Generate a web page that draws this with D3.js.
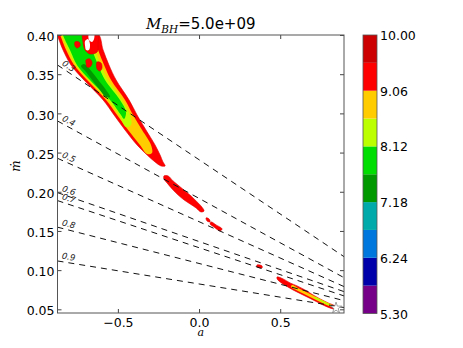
<!DOCTYPE html>
<html>
<head>
<meta charset="utf-8">
<script src="https://cdn.jsdelivr.net/npm/d3@7"></script>
<style>
  body { margin: 0; background: #fff; }
  text { font-family: "DejaVu Sans", sans-serif; fill: #000; }
</style>
</head>
<body>
<div id="chart"></div>
<script>
// contour levels and their colours (low -> high)
var levels = [5.30, 5.77, 6.24, 6.71, 7.18, 7.65, 8.12, 8.59, 9.06, 9.53, 10.00];
var levelColors = ["#770088", "#0000aa", "#0077dd", "#00aaaa", "#009900",
                   "#00dd00", "#bbff00", "#ffcc00", "#ff0000", "#cc0000"];
var cbarTicks = [5.30, 6.24, 7.18, 8.12, 9.06, 10.00];
var xTicks = [-0.5, 0.0, 0.5];
var yTicks = [0.05, 0.10, 0.15, 0.20, 0.25, 0.30, 0.35, 0.40];

// dashed reference lines: mdot at left edge and at right edge
var lineLabels = ["0.3", "0.4", "0.5", "0.6", "0.7", "0.8", "0.9"];
var lineStart = [0.3617, 0.2903, 0.2427, 0.1989, 0.1887, 0.1548, 0.1117];
var lineEnd   = [0.1172, 0.0904, 0.0790, 0.0726, 0.0671, 0.0611, 0.0523];

var starPoint = [0.844, 0.0518];

// filled regions, points are [a, mdot]
var mainRed = [[-0.628,0.4026],[-0.591,0.3809],[-0.555,0.3617],[-0.511,0.3426],[-0.431,0.3171],
  [-0.382,0.2980],[-0.327,0.2788],[-0.271,0.2597],[-0.240,0.2469],[-0.222,0.2380],[-0.209,0.2329],
  [-0.234,0.2329],[-0.271,0.2380],[-0.320,0.2469],[-0.382,0.2597],[-0.456,0.2788],[-0.524,0.2980],
  [-0.591,0.3171],[-0.709,0.3426],[-0.789,0.3617],[-0.838,0.3809],[-0.875,0.4000],[-0.887,0.4038]];
var mainOrange = [[-0.653,0.4026],[-0.622,0.3809],[-0.585,0.3617],[-0.542,0.3426],[-0.456,0.3171],
  [-0.407,0.2980],[-0.351,0.2788],[-0.296,0.2597],[-0.290,0.2495],[-0.320,0.2482],[-0.364,0.2597],
  [-0.437,0.2788],[-0.505,0.2980],[-0.573,0.3171],[-0.690,0.3426],[-0.770,0.3617],[-0.819,0.3809],
  [-0.856,0.4000],[-0.863,0.4026]];
var mainLime = [[-0.672,0.4026],[-0.641,0.3809],[-0.604,0.3617],[-0.561,0.3426],[-0.474,0.3171],
  [-0.425,0.2980],[-0.419,0.2852],[-0.450,0.2827],[-0.493,0.2980],[-0.561,0.3171],[-0.678,0.3426],
  [-0.758,0.3617],[-0.807,0.3809],[-0.844,0.4000],[-0.844,0.4026]];
var mainGreen = [[-0.696,0.4026],[-0.659,0.3809],[-0.622,0.3617],[-0.579,0.3426],[-0.487,0.3171],
  [-0.450,0.3018],[-0.462,0.2929],[-0.481,0.2980],[-0.548,0.3171],[-0.672,0.3426],[-0.752,0.3617],
  [-0.795,0.3809],[-0.838,0.4000],[-0.838,0.4026]];
var mainDark = [[-0.709,0.3630],[-0.659,0.3528],[-0.616,0.3413],[-0.573,0.3298],[-0.548,0.3209],
  [-0.573,0.3209],[-0.616,0.3311],[-0.659,0.3426],[-0.696,0.3528],[-0.727,0.3605]];
var spotA = [[-0.696,0.3681],[-0.672,0.3694],[-0.659,0.3643],[-0.672,0.3592],[-0.690,0.3592],[-0.696,0.3643]];
var spotB = [[-0.628,0.3656],[-0.604,0.3643],[-0.598,0.3579],[-0.610,0.3541],[-0.628,0.3566]];
var spotC = [[-0.764,0.3911],[-0.739,0.3911],[-0.733,0.3860],[-0.752,0.3834],[-0.764,0.3860]];
var topPatch = [[-0.715,0.4026],[-0.622,0.4026],[-0.622,0.3911],[-0.628,0.3783],[-0.672,0.3758],
  [-0.702,0.3809],[-0.715,0.3911]];
var hole1 = [[-0.702,0.3923],[-0.684,0.3949],[-0.672,0.3885],[-0.678,0.3809],[-0.696,0.3809],[-0.702,0.3860]];
var hole2 = [[-0.678,0.4013],[-0.647,0.4013],[-0.647,0.3949],[-0.659,0.3911],[-0.678,0.3936]];

var midRed = [[-0.216,0.2202],[-0.191,0.2202],[-0.160,0.2138],[-0.123,0.2074],[-0.086,0.2010],
  [-0.049,0.1946],[-0.018,0.1883],[0.012,0.1819],[0.031,0.1755],[0.012,0.1742],[-0.018,0.1793],
  [-0.055,0.1844],[-0.092,0.1895],[-0.129,0.1959],[-0.166,0.2036],[-0.197,0.2112],[-0.216,0.2163]];
var bit1 = [[0.043,0.1666],[0.062,0.1653],[0.068,0.1615],[0.049,0.1628]];
var bit2 = [[0.074,0.1615],[0.105,0.1577],[0.142,0.1526],[0.129,0.1500],[0.092,0.1551],[0.068,0.1589]];
var bit3 = [[0.357,0.1066],[0.388,0.1054],[0.388,0.1028],[0.357,0.1041]];

var lowRed = [[0.481,0.0913],[0.518,0.0888],[0.561,0.0837],[0.604,0.0799],[0.653,0.0747],
  [0.702,0.0684],[0.746,0.0633],[0.795,0.0582],[0.838,0.0543],[0.850,0.0505],[0.826,0.0505],
  [0.776,0.0543],[0.727,0.0594],[0.678,0.0645],[0.628,0.0696],[0.579,0.0747],[0.536,0.0799],
  [0.499,0.0850],[0.481,0.0888]];
var lowOrange = [[0.573,0.0811],[0.622,0.0760],[0.672,0.0709],[0.721,0.0658],[0.770,0.0607],
  [0.819,0.0556],[0.826,0.0531],[0.801,0.0543],[0.746,0.0594],[0.696,0.0645],[0.647,0.0696],
  [0.598,0.0747],[0.567,0.0786]];
var lowGreen = [[0.715,0.0658],[0.764,0.0607],[0.813,0.0556],[0.819,0.0543],[0.795,0.0556],
  [0.746,0.0607],[0.709,0.0645]];

// [points, level index] in drawing order; -1 = empty (white)
var regions = [
  [mainRed, 8], [mainOrange, 7], [mainLime, 6], [mainGreen, 5], [mainDark, 4],
  [topPatch, 8], [spotA, 8], [spotB, 8], [spotC, 8], [hole1, -1], [hole2, -1],
  [midRed, 8], [bit1, 8], [bit2, 8], [bit3, 8],
  [lowRed, 8], [lowOrange, 7], [lowGreen, 6]
];

var margin = {top: 35, left: 57.5},
    width = 286.5,
    height = 278;

var svg = d3.select("#chart").append("svg")
    .attr("width", 463)
    .attr("height", 348);

var g = svg.append("g")
    .attr("transform", "translate(" + margin.left + "," + margin.top + ")");

var x = d3.scaleLinear().domain([-0.872, 0.893]).range([0, width]);
var y = d3.scaleLinear().domain([0.0453, 0.40]).range([height, 0]);

g.append("clipPath").attr("id", "plotclip")
  .append("rect").attr("width", width).attr("height", height);

var plot = g.append("g").attr("clip-path", "url(#plotclip)");

// filled contour regions
var shape = d3.line()
    .x(function(d) { return x(d[0]); })
    .y(function(d) { return y(d[1]); })
    .curve(d3.curveCatmullRomClosed.alpha(0.5));

plot.selectAll(".region")
  .data(regions)
  .enter()
  .append("path")
    .attr("class", "region")
    .attr("d", function(d) { return shape(d[0]); })
    .attr("fill", function(d) { return d[1] < 0 ? "#fff" : levelColors[d[1]]; })
    .attr("stroke", function(d) { return d[1] == 8 ? "#dd0000" : "none"; })
    .attr("stroke-width", 0.6);

// dashed lines
var x0 = x.domain()[0], x1 = x.domain()[1];
plot.selectAll(".eff")
  .data(lineLabels)
  .enter()
  .append("line")
    .attr("class", "eff")
    .attr("x1", x(x0))
    .attr("y1", function(d, i) { return y(lineStart[i]); })
    .attr("x2", x(x1))
    .attr("y2", function(d, i) { return y(lineEnd[i]); })
    .attr("stroke", "#111")
    .attr("stroke-width", 1)
    .attr("stroke-dasharray", "6,5");

// line labels, rotated along each line
g.selectAll(".efflabel")
  .data(lineLabels)
  .enter()
  .append("text")
    .attr("class", "efflabel")
    .attr("transform", function(d, i) {
      var dx = x(x1) - x(x0), dy = y(lineEnd[i]) - y(lineStart[i]);
      var ang = Math.atan2(dy, dx) * 180 / Math.PI;
      var px = 4, py = y(lineStart[i]) + dy / dx * px - 3;
      return "translate(" + px + "," + py + ")rotate(" + ang + ")";
    })
    .style("font-size", "8.5px")
    .style("font-style", "italic")
    .style("fill", "#222")
    .text(function(d) { return d; });

// star marker
plot.append("path")
    .attr("d", d3.symbol().type(d3.symbolStar).size(38))
    .attr("transform", "translate(" + x(starPoint[0]) + "," + y(starPoint[1]) + ")")
    .attr("fill", "#fff")
    .attr("stroke", "#888")
    .attr("stroke-width", 0.8);

// axes with inward ticks
var xb = g.append("g")
    .attr("transform", "translate(0," + height + ")")
    .call(d3.axisBottom(x).tickValues(xTicks).tickSize(-4).tickPadding(5)
      .tickFormat(function(d) { return d3.format(".1f")(d).replace("-", "\u2212"); }));
var xt = g.append("g")
    .call(d3.axisTop(x).tickValues(xTicks).tickSize(-4).tickFormat(""));
var yl = g.append("g")
    .call(d3.axisLeft(y).tickValues(yTicks).tickSize(-4).tickPadding(3).tickFormat(d3.format(".2f")));
var yr = g.append("g")
    .attr("transform", "translate(" + width + ",0)")
    .call(d3.axisRight(y).tickValues(yTicks).tickSize(-4).tickFormat(""));

[xb, xt, yl, yr].forEach(function(a) {
  a.select(".domain").remove();
  a.selectAll(".tick line").attr("stroke", "#444");
  a.selectAll("text").style("font-size", "12.5px").style("font-family", "DejaVu Sans, sans-serif");
});
yl.selectAll(".tick text").attr("dy", "0.45em");

g.append("rect")
    .attr("width", width)
    .attr("height", height)
    .attr("fill", "none")
    .attr("stroke", "#555")
    .attr("stroke-width", 1);

// axis labels
g.append("text")
    .attr("x", width / 2)
    .attr("y", height + 23)
    .attr("text-anchor", "middle")
    .style("font-family", "DejaVu Serif, serif")
    .style("font-style", "italic")
    .style("font-size", "11px")
    .text("a");

g.append("text")
    .attr("transform", "translate(-38," + (height / 2 - 8) + ")rotate(-90)")
    .attr("text-anchor", "middle")
    .style("font-family", "DejaVu Serif, serif")
    .style("font-style", "italic")
    .style("font-size", "12px")
    .text("\u1E41");

// title
var title = svg.append("text")
    .attr("x", margin.left + width / 2)
    .attr("y", 29)
    .attr("text-anchor", "middle")
    .style("font-size", "15px");
title.append("tspan")
    .style("font-family", "DejaVu Serif, serif")
    .style("font-style", "italic")
    .text("M");
title.append("tspan")
    .attr("dy", 4)
    .style("font-family", "DejaVu Serif, serif")
    .style("font-style", "italic")
    .style("font-size", "10.5px")
    .text("BH");
title.append("tspan")
    .attr("dy", -4)
    .text("=5.0e+09");

// colour bar
var yc = d3.scaleLinear().domain([levels[0], levels[levels.length - 1]]).range([313.5, 35]);
var cbar = svg.append("g").attr("transform", "translate(363,0)");
cbar.selectAll("rect")
  .data(levelColors)
  .enter()
  .append("rect")
    .attr("x", 0)
    .attr("width", 14)
    .attr("y", function(d, i) { return yc(levels[i + 1]); })
    .attr("height", function(d, i) { return yc(levels[i]) - yc(levels[i + 1]); })
    .attr("fill", function(d) { return d; });
cbar.append("rect")
    .attr("y", yc.range()[1])
    .attr("width", 14)
    .attr("height", yc.range()[0] - yc.range()[1])
    .attr("fill", "none")
    .attr("stroke", "#555")
    .attr("stroke-width", 0.8);
cbar.selectAll(".clab")
  .data(cbarTicks)
  .enter()
  .append("text")
    .attr("class", "clab")
    .attr("x", 17)
    .attr("y", function(d) { return yc(d) + 5; })
    .style("font-size", "12.5px")
    .text(function(d) { return d3.format(".2f")(d); });
</script>
</body>
</html>
